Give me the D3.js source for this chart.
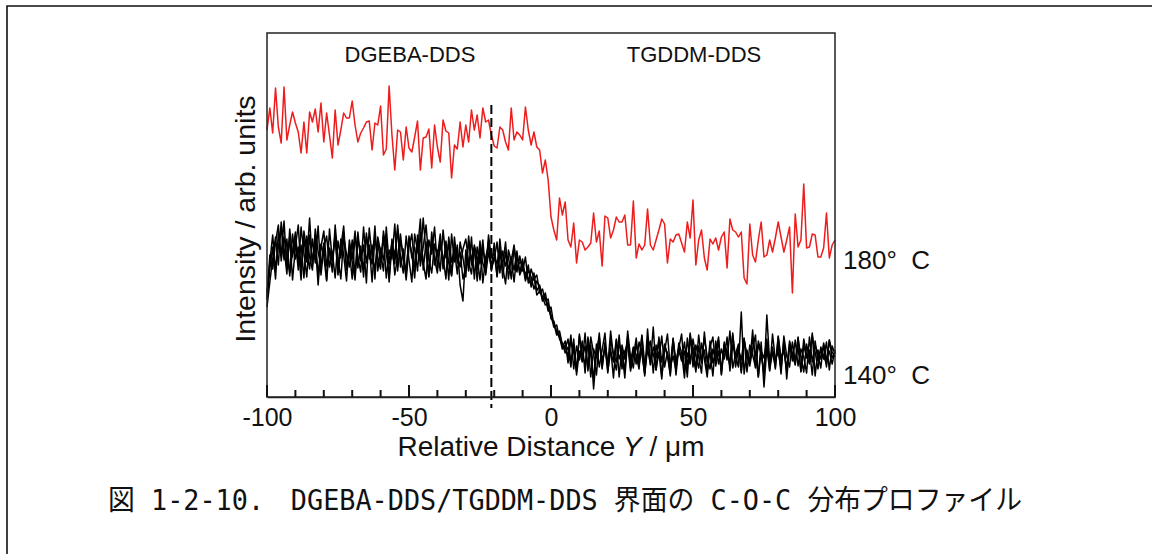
<!DOCTYPE html>
<html>
  <head>
    <meta charset="utf-8">
    <style>
      body { margin: 0; background: #fff; }
      svg { display: block; background: #fff; }
      text { font-family: "Liberation Sans", Arial, sans-serif; fill: #111; }
    </style>
  </head>
  <body>
    <script src="https://d3js.org/d3.v7.min.js"></script>
    <script>
      // x positions: -100 .. 100 um, 1 um step
      const distance = d3.range(-100, 101, 1)

      // 180 C profile (red)
      const red180 = [
        267,289,264,309,270,254,310,257,272,285,274,265,244,275,244,285,275,288,265,294,
        255,284,262,239,287,252,267,284,279,279,296,272,255,264,269,275,276,247,274,272,
        291,242,248,311,262,227,267,265,237,270,249,
        245,260,276,227,259,260,268,229,272,250,235,277,266,264,219,252,248,275,250,272,
        255,287,267,282,259,289,275,277,262,251,249,270,267,255,247,289,257,265,262,257,
        290,267,252,265,250,
        247,224,237,217,180,167,157,199,182,195,157,150,174,134,157,155,147,150,154,184,
        155,166,131,181,179,159,167,180,175,175,182,152,152,196,139,153,147,152,188,152,
        147,157,167,178,173,134,158,155,162,163,154,145,175,
        159,197,132,157,167,139,127,158,153,159,147,160,165,129,178,167,165,160,165,119,
        113,173,142,135,157,175,140,142,157,145,159,175,160,145,157,170,104,183,150,157,
        213,149,150,163,162,140,140,149,184,139,152,157
      ]

      // 140 C profiles (black), four scans
      const black140a = [
        97,128,150,118,165,142,176,128,160,117,150,172,126,158,135,179,131,162,120,153,
        141,116,168,137,159,122,150,171,128,146,118,163,140,125,170,134,152,115,160,139,
        128,166,145,119,158,133,172,140,124,161,137,115,163,146,178,127,155,121,165,138,
        124,158,131,149,117,163,135,152,112,96,147,126,160,118,150,133,157,122,145,129,
        154,120,143,132,155,118,140,127,146,124,
        138,118,132,110,124,106,112,98,104,88,82,70,72,58,54,44,
        50,30,58,22,46,35,64,26,52,8,44,60,28,55,34,49,19,57,38,47,
        25,66,40,29,54,36,61,24,48,33,70,27,45,18,53,42,31,59,22,50,
        36,46,20,62,30,52,40,24,65,35,45,21,56,33,48,38,60,26,52,41,
        30,85,23,47,35,58,44,20,55,10,49,26,63,37,45,28,57,18,50,42,
        33,60,25,52,39,47,22,56,36,48,38,55,27,51,43
      ]
      const black140b = [
        90,115,138,160,132,175,149,123,168,140,158,127,170,144,120,162,135,155,112,150,
        166,131,147,125,172,139,118,160,143,130,157,121,165,136,152,114,169,140,128,155,
        134,161,119,147,138,173,126,156,142,117,150,163,129,148,137,179,144,120,158,132,
        147,126,167,139,154,122,160,134,145,118,129,155,137,150,116,148,134,124,162,139,
        144,121,158,130,113,147,136,152,125,141,
        126,140,114,128,118,122,104,108,96,98,78,76,64,60,48,52,
        40,62,28,51,37,56,24,60,42,18,53,30,47,64,26,45,35,58,20,52,
        38,61,29,49,33,55,43,23,68,32,50,39,57,21,46,63,30,41,27,54,
        44,19,59,36,50,28,62,38,47,25,56,34,45,60,22,51,37,66,29,43,
        53,24,57,40,31,48,62,20,46,39,58,27,44,35,52,23,61,41,30,55,
        36,49,26,58,42,33,64,21,47,38,52,30,57,45,40
      ]
      const black140c = [
        104,135,162,128,150,170,137,158,121,146,165,133,152,119,161,140,127,168,145,131,
        154,117,149,136,163,125,158,142,116,157,138,166,129,151,120,160,144,133,171,126,
        149,137,158,115,153,142,167,130,148,121,161,139,150,126,165,134,118,157,143,170,
        129,152,140,118,160,135,147,123,155,139,120,161,132,147,127,156,114,140,151,130,
        137,155,124,146,131,141,118,150,129,135,
        133,116,127,120,108,116,110,96,100,86,90,72,66,62,50,56,
        34,57,46,25,63,38,51,29,60,44,22,55,37,48,31,66,40,27,53,45,
        19,58,35,50,42,28,62,33,47,56,24,52,39,61,30,45,21,57,36,49,
        63,26,44,33,58,41,29,54,38,20,50,60,31,46,27,55,43,35,64,30,
        48,37,59,25,52,42,30,56,45,22,82,34,50,28,61,39,47,26,53,36,
        57,31,48,40,24,60,35,52,43,29,54,38,46,33,47
      ]
      const black140d = [
        100,142,128,155,172,136,160,141,125,163,138,150,117,166,146,128,158,134,171,122,
        149,161,130,145,119,156,139,165,127,150,135,117,158,143,129,164,138,152,118,160,
        145,126,170,133,155,122,141,163,136,127,158,143,119,162,131,150,172,137,124,153,
        140,163,128,156,134,121,150,142,130,148,158,135,123,152,140,117,149,131,156,126,
        141,133,150,119,145,128,138,115,143,122,
        130,124,118,112,120,102,106,100,92,94,80,74,62,66,52,48,
        58,36,49,27,61,42,33,55,20,48,39,64,30,51,24,57,43,35,62,28,
        46,53,26,40,59,32,49,21,56,38,44,27,60,35,52,41,23,58,31,47,
        37,55,29,64,43,25,51,34,60,40,28,48,36,57,23,53,45,31,62,39,
        50,26,58,41,34,67,29,52,43,24,55,38,46,30,60,35,49,27,56,44,
        32,59,40,25,53,37,62,45,28,50,41,33,57,39,45
      ]

      const blackSeries = [black140a, black140b, black140c, black140d]
      const majorTicks = [-100, -50, 0, 50, 100]
      const minorTicks = d3.range(-90, 100, 10).filter(d => d % 50 !== 0)
      const boundary = -21
      const regionLabels = [["DGEBA-DDS", -50], ["TGDDM-DDS", 50]]
      const tempLabels = [["180°  C", 128], ["140°  C", 13]]
      const caption = "図 1-2-10.\u3000DGEBA-DDS/TGDDM-DDS 界面の C-O-C 分布プロファイル"

      const W = 1152, H = 554
      const plotL = 267, plotR = 835, plotT = 33, plotB = 397

      const svg = d3.select("body").append("svg")
        .attr("width", W)
        .attr("height", H)

      // page frame (only top and left edge visible)
      svg.append("path")
        .attr("d", "M7," + H + "V6H" + W)
        .attr("fill", "none")
        .attr("stroke", "#111")
        .attr("stroke-width", 1.6)

      const x = d3.scaleLinear().domain([-100, 100]).range([plotL, plotR])
      const y = d3.scaleLinear().domain([0, 364]).range([plotB, plotT])

      const line = d3.line()
        .x((d, i) => x(distance[i]))
        .y(d => y(d))

      blackSeries.forEach(s => {
        svg.append("path")
          .datum(s)
          .attr("d", line)
          .attr("fill", "none")
          .attr("stroke", "#000")
          .attr("stroke-width", 1.5)
          .attr("stroke-linejoin", "round")
      })

      svg.append("path")
        .datum(red180)
        .attr("d", line)
        .attr("fill", "none")
        .attr("stroke", "#ee1c1c")
        .attr("stroke-width", 1.5)
        .attr("stroke-linejoin", "round")

      // boundary marker
      svg.append("line")
        .attr("x1", x(boundary)).attr("x2", x(boundary))
        .attr("y1", y(292)).attr("y2", y(-11))
        .attr("stroke", "#000")
        .attr("stroke-width", 2)
        .attr("stroke-dasharray", "9,4")

      // plot frame
      svg.append("rect")
        .attr("x", plotL).attr("y", plotT)
        .attr("width", plotR - plotL).attr("height", plotB - plotT)
        .attr("fill", "none")
        .attr("stroke", "#222")
        .attr("stroke-width", 1.5)

      // inward tick marks on the x axis
      svg.selectAll(".minor-tick")
        .data(minorTicks)
        .enter()
        .append("line")
          .attr("class", "minor-tick")
          .attr("x1", d => x(d)).attr("x2", d => x(d))
          .attr("y1", plotB).attr("y2", plotB - 7)
          .attr("stroke", "#111")
          .attr("stroke-width", 2)

      svg.selectAll(".major-tick")
        .data(majorTicks)
        .enter()
        .append("line")
          .attr("class", "major-tick")
          .attr("x1", d => x(d)).attr("x2", d => x(d))
          .attr("y1", plotB).attr("y2", plotB - 12)
          .attr("stroke", "#111")
          .attr("stroke-width", 2)

      // tick labels under the axis
      svg.append("g")
        .attr("transform", "translate(0," + plotB + ")")
        .call(d3.axisBottom(x).tickValues(majorTicks).tickSize(0).tickPadding(11).tickFormat(d => String(d)))
        .call(g => g.select(".domain").attr("stroke", "#222").attr("stroke-width", 1.5))
        .call(g => g.selectAll("text")
          .style("font-family", "'Liberation Sans', Arial, sans-serif")
          .style("font-size", "25px")
          .attr("fill", "#111"))

      // axis titles
      const xt = svg.append("text")
        .attr("x", x(0))
        .attr("y", 456)
        .attr("text-anchor", "middle")
        .style("font-size", "28px")
      xt.append("tspan").text("Relative Distance ")
      xt.append("tspan").style("font-style", "italic").text("Y")
      xt.append("tspan").text(" / μm")

      svg.append("text")
        .attr("transform", "translate(255,219) rotate(-90)")
        .attr("text-anchor", "middle")
        .style("font-size", "28.5px")
        .text("Intensity / arb. units")

      // region labels
      svg.selectAll(".region")
        .data(regionLabels)
        .enter()
        .append("text")
          .attr("class", "region")
          .attr("x", d => x(d[1]) + 1)
          .attr("y", 62)
          .attr("text-anchor", "middle")
          .style("font-size", "22px")
          .text(d => d[0])

      // temperature labels
      svg.selectAll(".temp")
        .data(tempLabels)
        .enter()
        .append("text")
          .attr("class", "temp")
          .attr("x", plotR + 8)
          .attr("y", d => y(d[1]))
          .style("font-size", "26px")
          .style("white-space", "pre")
          .text(d => d[0])

      // figure caption
      svg.append("text")
        .attr("x", 108)
        .attr("y", 510)
        .attr("textLength", 914)
        .attr("lengthAdjust", "spacingAndGlyphs")
        .style("font-family", "'DejaVu Sans Mono', 'Noto Sans CJK JP', monospace")
        .style("font-size", "28px")
        .style("white-space", "pre")
        .text(caption)
    </script>
  </body>
</html>
